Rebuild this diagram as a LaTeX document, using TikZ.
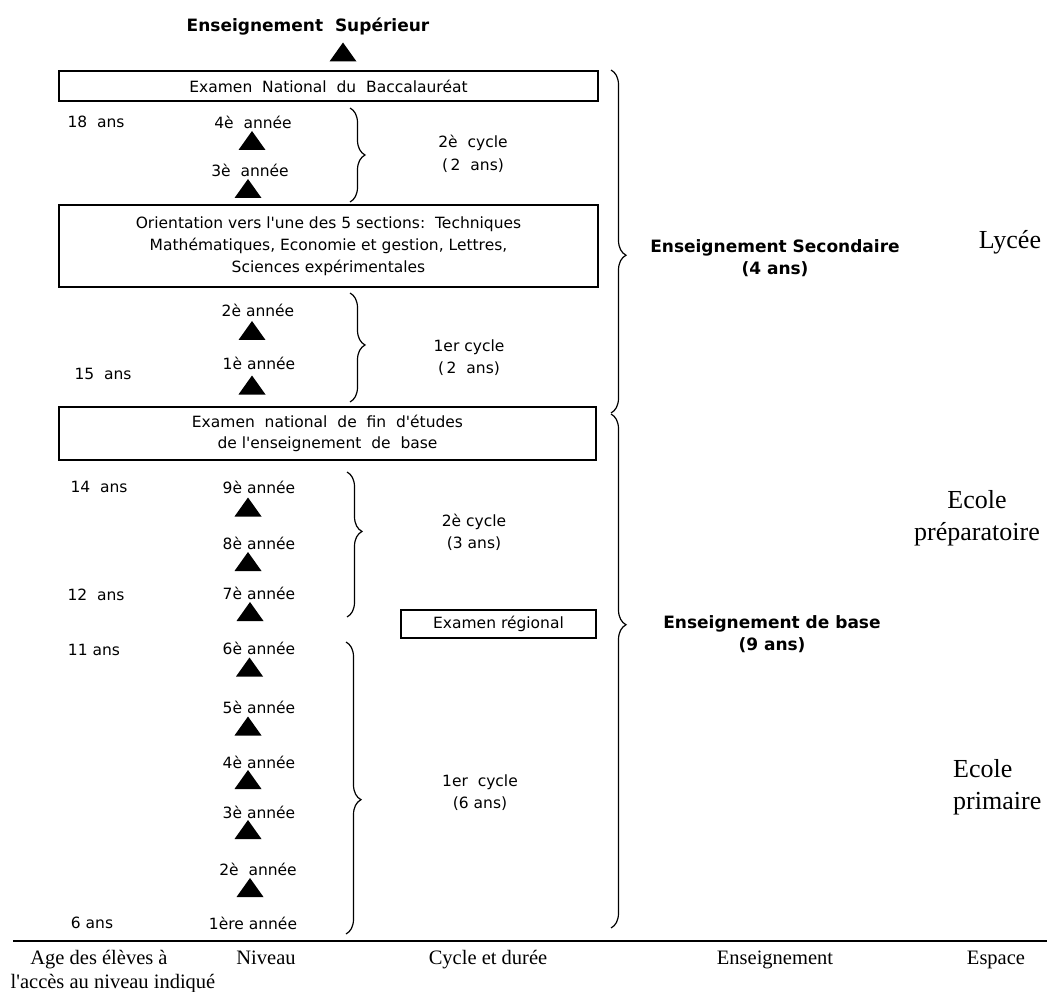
\documentclass[tikz,border=0pt]{standalone}
\usepackage{fontspec}
\usetikzlibrary{decorations.pathreplacing}
\newfontfamily\smf{DejaVu Sans}
\newfontfamily\srf{Liberation Serif}
\begin{document}
\begin{tikzpicture}[x=1pt,y=-1pt,
  txt/.style={font=\smf\fontsize{15.5}{22}\selectfont, inner sep=0pt, align=center},
  hd/.style={font=\smf\bfseries\fontsize{17}{22}\selectfont, inner sep=0pt, align=center},
  lbl/.style={font=\srf\fontsize{20.5}{24}\selectfont, inner sep=0pt, anchor=base},
  esp/.style={font=\srf\fontsize{26}{32}\selectfont, inner sep=0pt},
  exbox/.style={draw, line width=1.5pt, inner sep=0pt, align=center, font=\smf\fontsize{15.5}{22}\selectfont},
  br/.style={decorate, decoration={brace, amplitude=15pt, aspect=#1}, line width=1.2pt},
  tri/.pic={\fill (-13.5,9.5) -- (0,-9.5) -- (13.5,9.5) -- cycle;}
]
\useasboundingbox (0,0) rectangle (1047,992);

% top
\node[hd] (sup) at (308,27) {Enseignement\ \ Supérieur};
\pic at (343,52) {tri};
\node[exbox, minimum width=539pt, minimum height=30pt] (bac) at (328.5,86) {Examen\ \ National\ \ du\ \ Baccalauréat};

% secondary 2e cycle
\node[txt] (a18) at (96,122) {18\ \ ans};
\node[txt] (s4) at (253,122) {4è\ \ année};
\pic at (252,140.5) {tri};
\node[txt] (s3) at (250,170) {3è\ \ année};
\pic at (248,188.5) {tri};
\coordinate (b1t) at (350,108);
\coordinate (b1b) at (350,202);
\draw[br=0.5] (b1t) -- (b1b);
\node[txt, font=\smf\fontsize{15.5}{23}\selectfont] (c2s) at (473,153.5) {2è\ \ cycle\\(\,2\ \ ans)};

\node[exbox, minimum width=539pt, minimum height=82pt] (ori) at (328.5,246) {Orientation vers l'une des 5 sections:\ \ Techniques\\Mathématiques,\ Economie et gestion, Lettres,\\Sciences expérimentales};

% secondary 1er cycle
\node[txt] (s2) at (258,310) {2è année};
\pic at (252,330.5) {tri};
\node[txt] (s1) at (259,363) {1è année};
\pic at (252,385) {tri};
\node[txt] (a15) at (103,374) {15\ \ ans};
\coordinate (b2t) at (350,293);
\coordinate (b2b) at (350,402);
\draw[br=0.477] (b2t) -- (b2b);
\node[txt] (c1s) at (469,358) {1er cycle\\(\,2\ \ ans)};

\node[exbox, minimum width=537pt, minimum height=53pt, font=\smf\fontsize{15.5}{21}\selectfont] (fin) at (327.5,433.5) {Examen\ \ national\ \ de\ \ fin\ \ d'études\\de l'enseignement\ \ de\ \ base};

% base 2e cycle
\node[txt] (a14) at (99,487) {14\ \ ans};
\node[txt] (n9) at (259,487) {9è année};
\pic at (248,507) {tri};
\node[txt] (n8) at (259,543) {8è année};
\pic at (248,561.5) {tri};
\node[txt] (a12) at (96,595) {12\ \ ans};
\node[txt] (n7) at (259,593) {7è année};
\pic at (250,611.5) {tri};
\coordinate (b3t) at (347,472);
\coordinate (b3b) at (347,617);
\draw[br=0.41] (b3t) -- (b3b);
\node[txt] (c2b) at (474,532) {2è cycle\\(3 ans)};
\node[exbox, minimum width=195pt, minimum height=28pt] (reg) at (498.5,624) {Examen régional};

% base 1er cycle
\node[txt] (a11) at (94,650) {11 ans};
\node[txt] (n6) at (259,648) {6è année};
\pic at (249.5,667) {tri};
\node[txt] (n5) at (259,707) {5è année};
\pic at (248,726) {tri};
\node[txt] (n4) at (259,762) {4è année};
\pic at (248,779.5) {tri};
\node[txt] (n3) at (259,812) {3è année};
\pic at (248,829.5) {tri};
\node[txt] (n2) at (258,869) {2è\ \ année};
\pic at (250,887.5) {tri};
\node[txt] (a6) at (92,923) {6 ans};
\node[txt] (n1) at (253,923) {1ère année};
\coordinate (b4t) at (346,642);
\coordinate (b4b) at (346,934);
\draw[br=0.54] (b4t) -- (b4b);
\node[txt] (c1b) at (480,793) {1er\ \ cycle\\(6 ans)};

% big braces
\coordinate (B1t) at (611,70);
\coordinate (B1b) at (611,413);
\draw[br=0.54] (B1t) -- (B1b);
\coordinate (B2t) at (611,414);
\coordinate (B2b) at (611,928);
\draw[br=0.41] (B2t) -- (B2b);
\node[hd] (sec) at (775,258) {Enseignement Secondaire\\(4 ans)};
\node[hd] (bas) at (772,634) {Enseignement de base\\(9 ans)};

% spaces
\node[esp] (lyc) at (1010,242) {Lycée};
\node[esp, align=center] (prep) at (977,518) {Ecole\\préparatoire};
\node[esp, align=left, anchor=west] (prim) at (953,787) {Ecole\\primaire};

% bottom axis
\coordinate (rl) at (13,941);
\coordinate (rr) at (1047,941);
\draw[line width=2pt] (rl) -- (rr);
\node[lbl] (lage) at (99,964) {Age des élèves à};
\node[lbl] (lage2) at (113,988) {l'accès au niveau indiqué};
\node[lbl] (lniv) at (266,964) {Niveau};
\node[lbl] (lcyc) at (488,964) {Cycle et durée};
\node[lbl] (lens) at (775,964) {Enseignement};
\node[lbl] (lesp) at (996,964) {Espace};
\end{tikzpicture}
\end{document}
